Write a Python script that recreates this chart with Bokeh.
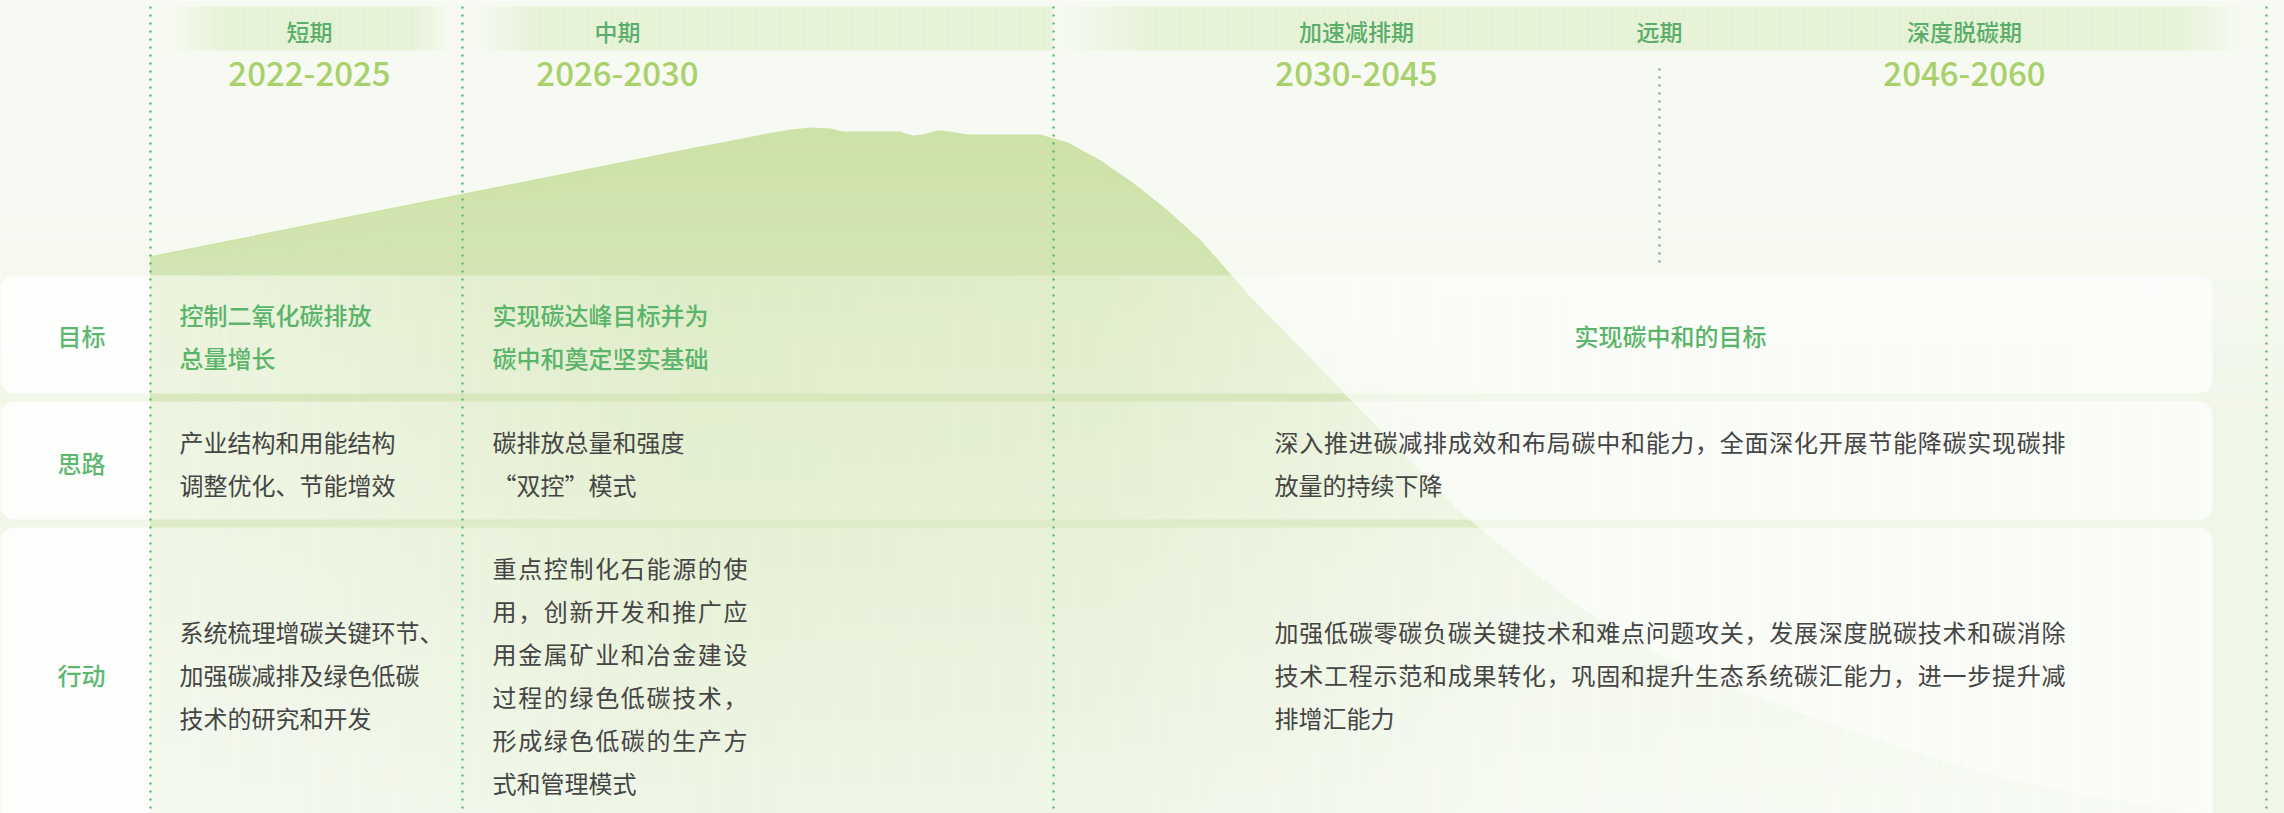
import numpy as np
from bokeh.plotting import figure
from bokeh.models import Range1d, BoxAnnotation, ColumnDataSource
from bokeh.core.properties import value
from bokeh.embed import file_html
from bokeh.resources import INLINE

# ---------------- DATA ----------------
row_labels = ["目标", "思路", "行动"]
phase_names = ["短期", "中期", "加速减排期", "远期", "深度脱碳期"]
phase_years = ["2022-2025", "2026-2030", "2030-2045", "", "2046-2060"]

goal_short = ["控制二氧化碳排放", "总量增长"]
goal_mid = ["实现碳达峰目标并为", "碳中和奠定坚实基础"]
goal_long = ["实现碳中和的目标"]
idea_short = ["产业结构和用能结构", "调整优化、节能增效"]
idea_mid = ["碳排放总量和强度", "“双控”模式"]
idea_long = ["深入推进碳减排成效和布局碳中和能力，全面深化开展节能降碳实现碳排",
             "放量的持续下降"]
act_short = ["系统梳理增碳关键环节、", "加强碳减排及绿色低碳", "技术的研究和开发"]
act_mid = ["重点控制化石能源的使", "用，创新开发和推广应", "用金属矿业和冶金建设",
           "过程的绿色低碳技术，", "形成绿色低碳的生产方", "式和管理模式"]
act_long = ["加强低碳零碳负碳关键技术和难点问题攻关，发展深度脱碳技术和碳消除",
            "技术工程示范和成果转化，巩固和提升生态系统碳汇能力，进一步提升减",
            "排增汇能力"]

# schematic emission curve (timeline position, level in screen units)
curve_x = [150, 400, 600, 700, 767, 790, 810, 830, 843, 900, 905, 912, 922, 937, 950,
           967, 1000, 1040, 1067, 1100, 1133, 1167, 1200, 1250, 1300, 1350, 1400, 1457,
           1520, 1573, 1655, 1740, 1819, 1900, 1983, 2080, 2180, 2290]
curve_y = [256, 206, 166, 146, 133, 129, 127, 128, 131, 131, 133, 135, 134, 130, 131,
           134, 134, 134, 142, 160, 183, 210, 240, 297, 348, 400, 451, 510,
           562, 603, 653, 690, 720, 748, 773, 795, 810, 822]

# ---------------- LAYOUT / STYLE ----------------
FONT = "Noto Sans CJK SC"
FONT_MED = "Noto Sans CJK SC Medium, Noto Sans CJK SC"
W_PX, H_PX = 2284, 813
BOTTOM = 813
ROW_Y = [335, 462, 674]
LINE_H = 43
COL_X = [179, 492, 1274]
JUST_W = [252, 255, 791]
FS = 24
CARDS = [(275, 393), (401, 519), (527, 835)]
CARD_RIGHT = 2212
DIVIDERS = [150, 462, 1053, 2266]
HEAD_X = [309, 617, 1356, 1659, 1964]

BG = "#f7faf2"


def hex2rgb(h):
    h = h.lstrip("#")
    return np.array([int(h[i:i + 2], 16) for i in (0, 2, 4)], float)


def mix(c1, c2, t):
    a, b = hex2rgb(c1), hex2rgb(c2)
    c = a + (b - a) * t
    return "#%02x%02x%02x" % tuple(int(round(v)) for v in c)


p = figure(width=W_PX, height=H_PX, x_range=Range1d(0, W_PX),
           y_range=Range1d(H_PX, 0), output_backend="svg",
           toolbar_location=None, min_border=0,
           x_axis_location=None, y_axis_location=None)
p.grid.visible = False
p.outline_line_color = None
p.background_fill_color = BG
p.border_fill_color = BG

# background: slightly greener toward the lower part
lv = np.arange(200, 420, 10)
p.quad(left=0, right=2290, top=lv, bottom=BOTTOM + 10,
       fill_color=[mix(BG, "#f0f6e8", (v - 200) / 220) for v in lv],
       line_color=None, level="image")

# emission area with vertical gradient
cy = np.array(curve_y, float)
levels = np.arange(120, 820, 18)
for i, lvl in enumerate(levels):
    t = i / (len(levels) - 1)
    col = mix("#cde2a7", "#e8f2dc", t)
    p.varea(x=curve_x, y1=np.maximum(cy, lvl), y2=BOTTOM + 10,
            fill_color=col, level="image")

# header bands (fade at ends)
bands = [(168, 450, 60, 40), (477, 1052, 60, 0), (1057, 2243, 100, 70)]
bl, br, ba = [], [], []
for x0, x1, fl, fr in bands:
    edges = np.arange(x0, x1, 6)
    for e in edges:
        c = e + 3
        a = 1.0
        if fl and c < x0 + fl:
            a = (c - x0) / fl
        if fr and c > x1 - fr:
            a = min(a, (x1 - c) / fr)
        bl.append(int(e))
        br.append(int(min(e + 6, x1)))
        ba.append(max(0.0, a))
p.quad(left=bl, right=br, top=6, bottom=50, fill_color="#e5f2d5",
       fill_alpha=ba, line_color=None, level="image")

# cards: white with horizontal alpha profile
AX = [150, 160, 300, 700, 1100, 1500, CARD_RIGHT]
AA = [0.55, 0.55, 0.5, 0.28, 0.32, 0.62, 0.68]
cl, cr, ct, cb, ca = [], [], [], [], []
for top, bot in CARDS:
    edges = np.arange(150, CARD_RIGHT - 20, 10)
    for e in edges:
        cl.append(int(e))
        cr.append(int(min(e + 10, CARD_RIGHT - 20)))
        ct.append(top)
        cb.append(bot)
        ca.append(float(np.interp(e + 5, AX, AA)))
    p.add_layout(BoxAnnotation(left=0, right=150, top=top, bottom=bot,
                               fill_color="white", fill_alpha=0.86, line_color=None,
                               border_radius=(14, 0, 0, 14), level="underlay"))
    p.add_layout(BoxAnnotation(left=CARD_RIGHT - 20, right=CARD_RIGHT, top=top, bottom=bot,
                               fill_color="white", fill_alpha=AA[-1], line_color=None,
                               border_radius=(0, 14, 14, 0), level="underlay"))
p.quad(left=cl, right=cr, top=ct, bottom=cb, fill_color="white", fill_alpha=ca,
       line_color=None, level="underlay")

# dotted dividers
p.segment(x0=DIVIDERS, y0=6, x1=DIVIDERS, y1=BOTTOM + 5, line_color="#57b46b",
          line_width=2.2, line_dash="2 6")
p.segment(x0=[HEAD_X[3]], y0=68, x1=[HEAD_X[3]], y1=265, line_color="#57b46b",
          line_width=2, line_dash="2 6")

# ---------------- TEXT ----------------
STYLES = {
    "label": ("#5cb86f", 24, "center", FONT_MED),
    "title": ("#5ab56a", 24, "left", FONT_MED),
    "title_c": ("#5ab56a", 24, "center", FONT_MED),
    "body": ("#454545", 24, "left", FONT),
    "head": ("#5aae6a", 23, "center", FONT_MED),
    "year": ("#a8d06b", 33, "center", FONT_MED),
}
store = {k: {"x": [], "y": [], "text": []} for k in STYLES}


def put(style, x, y, t):
    store[style]["x"].append(x)
    store[style]["y"].append(y)
    store[style]["text"].append(t)


def cell(lines, row, col, style, justify=False, cx=None):
    n = len(lines)
    for i, line in enumerate(lines):
        y = ROW_Y[row] + (i - (n - 1) / 2) * LINE_H
        if cx is not None:
            put(style + "_c", cx, y, line)
        elif justify and i < n - 1 and len(line) > 1:
            step = (JUST_W[col] - FS) / (len(line) - 1)
            for k, ch in enumerate(line):
                put(style, COL_X[col] + k * step, y, ch)
        else:
            put(style, COL_X[col], y, line)


for r, lab in enumerate(row_labels):
    put("label", 81, ROW_Y[r], lab)

cell(goal_short, 0, 0, "title")
cell(goal_mid, 0, 1, "title")
cell(goal_long, 0, 2, "title", cx=1670)
cell(idea_short, 1, 0, "body")
cell(idea_mid, 1, 1, "body")
cell(idea_long, 1, 2, "body", justify=True)
cell(act_short, 2, 0, "body")
cell(act_mid, 2, 1, "body", justify=True)
cell(act_long, 2, 2, "body", justify=True)

for hx, name, yr in zip(HEAD_X, phase_names, phase_years):
    put("head", hx, 30, name)
    if yr:
        put("year", hx, 73, yr)

for k, (color, size, align, font) in STYLES.items():
    d = store[k]
    if not d["x"]:
        continue
    p.text(x="x", y="y", text="text", source=ColumnDataSource(d),
           text_color=color, text_font=value(font), text_font_size=f"{size}px",
           text_align=align, text_baseline="middle")

open("out.html", "w").write(file_html(p, INLINE))
